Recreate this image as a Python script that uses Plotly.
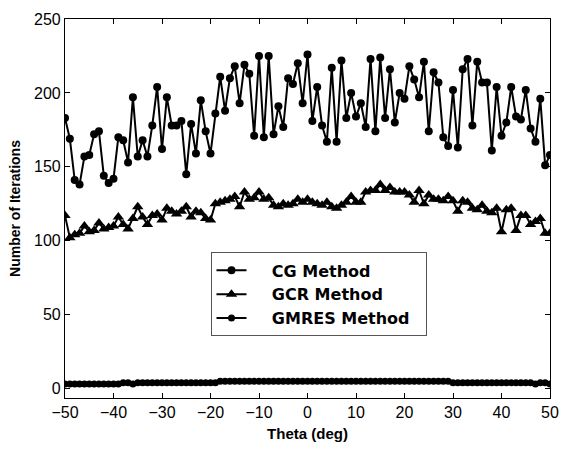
import plotly.graph_objects as go

theta = list(range(-50, 51))

cg = [183, 169, 141, 138, 157, 158, 172, 174, 144, 139,
      142, 170, 168, 153, 197, 157, 168, 157, 178, 204,
      162, 197, 178, 178, 181, 145, 179, 159, 195, 174,
      159, 186, 211, 188, 210, 218, 193, 219, 213, 171,
      225, 170, 225, 172, 191, 177, 210, 206, 220, 193,
      226, 181, 204, 178, 167, 217, 167, 222, 183, 200,
      184, 193, 177, 223, 174, 224, 183, 216, 180, 200,
      196, 218, 209, 197, 221, 174, 214, 207, 170, 164,
      202, 163, 216, 223, 178, 221, 207, 207, 161, 204,
      171, 180, 204, 184, 182, 202, 176, 167, 196, 151,
      158]

gcr = [117, 102, 104, 105, 110, 106, 107, 112, 108, 109,
       110, 116, 111, 108, 115, 123, 116, 111, 117, 118,
       114, 122, 120, 118, 120, 123, 116, 120, 119, 115,
       114, 125, 126, 127, 128, 130, 123, 133, 128, 129,
       133, 128, 129, 124, 123, 125, 124, 125, 128, 126,
       128, 126, 125, 124, 126, 123, 122, 124, 126, 130,
       126, 126, 133, 134, 134, 138, 134, 136, 133, 133,
       133, 131, 126, 134, 125, 131, 128, 128, 127, 130,
       127, 120, 127, 126, 122, 121, 124, 120, 119, 122,
       106, 121, 122, 107, 117, 117, 111, 113, 115, 105,
       105]

gmres = [3, 3, 3, 3, 3, 3, 3, 3, 3, 3,
         3, 3, 4, 4, 3, 4, 4, 4, 4, 4,
         4, 4, 4, 4, 4, 4, 4, 4, 4, 4,
         4, 4, 5, 5, 5, 5, 5, 5, 5, 5,
         5, 5, 5, 5, 5, 5, 5, 5, 5, 5,
         5, 5, 5, 5, 5, 5, 5, 5, 5, 5,
         5, 5, 5, 5, 5, 5, 5, 5, 5, 5,
         5, 5, 5, 5, 5, 5, 5, 5, 5, 5,
         4, 4, 4, 4, 4, 4, 4, 4, 4, 4,
         4, 4, 4, 4, 4, 4, 4, 3, 4, 4,
         3]

x_ticks = [-50, -40, -30, -20, -10, 0, 10, 20, 30, 40, 50]
y_ticks = [0, 50, 100, 150, 200, 250]

FONT = "Liberation Sans, Arial"
PAD = "\u00a0\u00a0\u00a0\u00a0"

fig = go.Figure()
fig.add_trace(go.Scatter(x=theta, y=cg, mode="lines+markers", name=PAD + "<b>CG Method</b>",
                         line=dict(color="black", width=2),
                         marker=dict(symbol="circle", size=8, color="black")))
fig.add_trace(go.Scatter(x=theta, y=gcr, mode="lines+markers", name=PAD + "<b>GCR Method</b>",
                         line=dict(color="black", width=2),
                         marker=dict(symbol="triangle-up", size=10, color="black")))
fig.add_trace(go.Scatter(x=theta, y=gmres, mode="lines+markers", name=PAD + "<b>GMRES Method</b>\u00a0\u00a0",
                         line=dict(color="black", width=2),
                         marker=dict(symbol="circle", size=7, color="black")))

axis_common = dict(showline=True, linecolor="black", linewidth=1.2, mirror="ticks",
                   ticks="inside", ticklen=5, tickcolor="black", showgrid=False,
                   zeroline=False, tickfont=dict(family=FONT, size=16, color="black"))

fig.update_xaxes(range=[-50, 50], tickvals=x_ticks,
                 title=dict(text="<b>Theta (deg)</b>", font=dict(family=FONT, size=15, color="black"), standoff=8),
                 **axis_common)
fig.update_yaxes(range=[-6.4, 250], tickvals=y_ticks,
                 title=dict(text="<b>Number of Iterations</b>", font=dict(family=FONT, size=14, color="black"), standoff=10),
                 **axis_common)

fig.update_layout(
    width=570, height=456,
    margin=dict(l=65, r=11, t=15, b=58),
    paper_bgcolor="white", plot_bgcolor="white",
    showlegend=True,
    legend=dict(x=0.30, y=0.384, xanchor="left", yanchor="top",
                bordercolor="#555", borderwidth=1, bgcolor="white",
                font=dict(family="DejaVu Sans", size=16, color="black"),
                itemsizing="trace"),
    font=dict(family=FONT, color="black"),
)

fig.write_html("out.html")
